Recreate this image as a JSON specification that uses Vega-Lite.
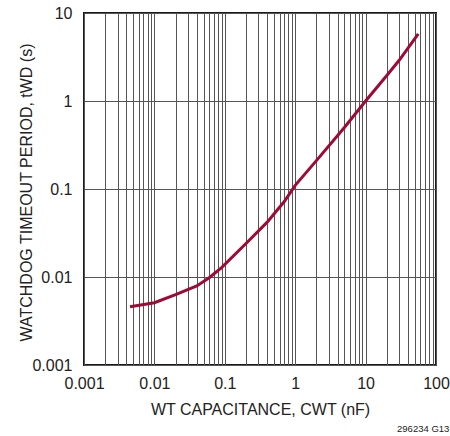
{
  "$schema": "https://vega.github.io/schema/vega-lite/v6.json",
  "width": 352,
  "height": 352,
  "autosize": "none",
  "padding": {"left": 84, "top": 13, "right": 14, "bottom": 71},
  "background": "white",
  "config": {
    "font": "Liberation Sans",
    "view": {"stroke": "#1a1a1a", "strokeWidth": 2},
    "axis": {
      "labelFont": "Liberation Sans",
      "titleFont": "Liberation Sans",
      "labelFontSize": 16,
      "titleFontSize": 16,
      "titleFontWeight": "normal",
      "labelColor": "#222",
      "titleColor": "#222",
      "ticks": false,
      "domain": false,
      "gridColor": "#555",
      "gridOpacity": 1,
      "gridWidth": 1,
      "labelFlush": false,
      "labelOverlap": false
    }
  },
  "title": {
    "text": "296234 G13",
    "orient": "bottom",
    "anchor": "end",
    "fontSize": 9.5,
    "fontWeight": "normal",
    "color": "#222",
    "offset": 7
  },
  "data": {
    "values": [
      {"c": 0.0045, "t": 0.0046},
      {"c": 0.01, "t": 0.0051},
      {"c": 0.02, "t": 0.0063},
      {"c": 0.04, "t": 0.0079},
      {"c": 0.06, "t": 0.0098},
      {"c": 0.09, "t": 0.0128},
      {"c": 0.2, "t": 0.024},
      {"c": 0.4, "t": 0.042},
      {"c": 0.7, "t": 0.072},
      {"c": 1, "t": 0.11},
      {"c": 2, "t": 0.21},
      {"c": 5, "t": 0.5},
      {"c": 10, "t": 1.0},
      {"c": 20, "t": 1.95},
      {"c": 30, "t": 2.9},
      {"c": 56, "t": 5.8}
    ]
  },
  "mark": {"type": "line", "color": "#9e0a35", "strokeWidth": 3, "strokeCap": "butt"},
  "encoding": {
    "x": {
      "field": "c",
      "type": "quantitative",
      "scale": {"type": "log", "domain": [0.001, 100], "nice": false},
      "axis": {
        "title": "WT CAPACITANCE, CWT (nF)",
        "titleY": 36,
        "labelPadding": 10,
        "values": [0.001, 0.002, 0.003, 0.004, 0.005, 0.006, 0.007, 0.008, 0.009,
                   0.01, 0.02, 0.03, 0.04, 0.05, 0.06, 0.07, 0.08, 0.09,
                   0.1, 0.2, 0.3, 0.4, 0.5, 0.6, 0.7, 0.8, 0.9,
                   1, 2, 3, 4, 5, 6, 7, 8, 9,
                   10, 20, 30, 40, 50, 60, 70, 80, 90, 100],
        "labelExpr": "abs(log(datum.value) / LN10 - round(log(datum.value) / LN10)) < 0.000001 ? format(datum.value, '~g') : ''"
      }
    },
    "y": {
      "field": "t",
      "type": "quantitative",
      "scale": {"type": "log", "domain": [0.001, 10], "nice": false},
      "axis": {
        "title": "WATCHDOG TIMEOUT PERIOD, tWD (s)",
        "titleX": -50,
        "titleY": 179,
        "labelPadding": 12,
        "values": [0.001, 0.01, 0.1, 1, 10],
        "format": "~g"
      }
    }
  }
}
